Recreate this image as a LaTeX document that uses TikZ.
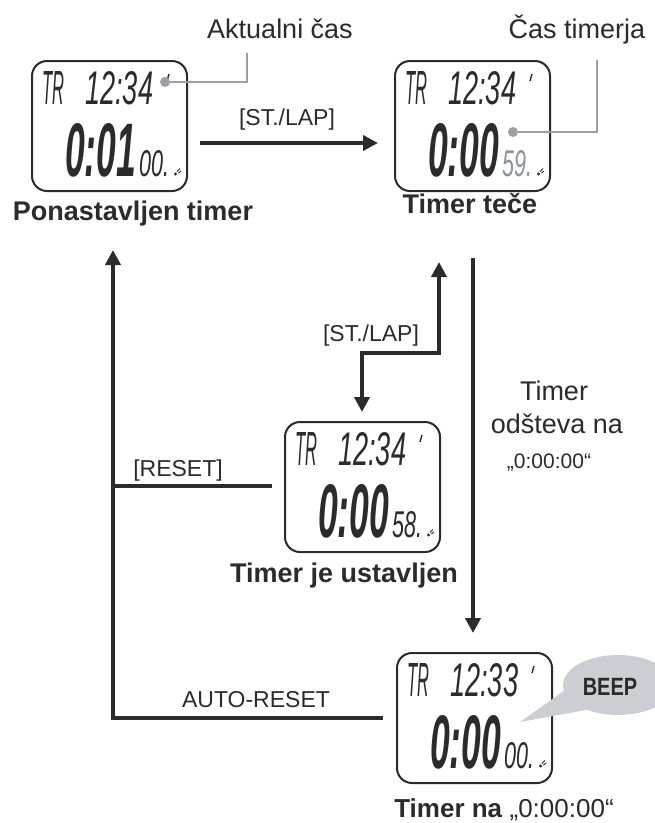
\documentclass[tikz,border=0pt]{standalone}
\usepackage{fontspec}
\usepackage{graphicx}
\setmainfont{Liberation Sans}
\newfontfamily\narrowfont[FakeStretch=0.8]{Liberation Sans}
\usetikzlibrary{arrows.meta}
\definecolor{ink}{HTML}{2B2B2B}
\definecolor{leadgray}{HTML}{9AA0A6}
\definecolor{bubblegray}{HTML}{CBCED3}
\definecolor{seggray}{HTML}{8C939B}
\newcommand{\lcdtext}[3]{\resizebox{#1pt}{#2pt}{\itshape #3}}
\tikzset{
  conn/.style={draw=ink, line width=4.8pt},
  tipend/.style={-{Triangle[length=15pt,width=15pt]}},
  tipboth/.style={{Triangle[length=15pt,width=15pt]}-{Triangle[length=15pt,width=15pt]}},
  leader/.style={draw=leadgray, line width=2.6pt},
  watchbox/.style={draw=ink, line width=2pt, rounded corners=15pt, minimum width=155pt, minimum height=130pt, inner sep=0pt},
  lcd/.style={inner sep=0pt, anchor=south west, text=ink},
  lbl/.style={inner sep=0pt, anchor=base, text=ink, font=\fontsize{23}{26}\selectfont},
  bigl/.style={inner sep=0pt, anchor=base, text=ink, font=\fontsize{27}{30}\selectfont},
  boldl/.style={inner sep=0pt, anchor=base, text=ink, font=\fontsize{27}{30}\selectfont\bfseries},
}
\newcommand{\watchunit}[7]{%
  \begin{scope}[shift={(#2,#3)}]
    \node[watchbox] (#1) at (77.5,65) {};
    \node[lcd] (#1tr) at (10,44) {\lcdtext{22}{33}{TR}};
    \node[lcd] (#1tm) at (53,44) {\lcdtext{68}{33}{#4}};
    \draw[ink, line width=1.4pt] (137,13) -- (135,20);
    \node[lcd] (#1big) at (33,116) {\lcdtext{71}{53}{\bfseries #5}};
    \node[lcd, text=#7] (#1sm) at (107,116) {\lcdtext{30}{26}{#6}};
    \fill[ink] (143.5,113) circle (1.6pt);
    \draw[ink, line width=0.9pt] (145,110.5) -- (148,107.5) (146.5,112) -- (149,110);
  \end{scope}}
\begin{document}
\begin{tikzpicture}[x=1pt,y=-1pt]
\clip (0,0) rectangle (655,823);
\fill[white] (0,0) rectangle (655,823);

% watches
\watchunit{wa}{32}{61}{12:34}{0:01}{00.}{ink}
\watchunit{wb}{395}{61}{12:34}{0:00}{59.}{seggray}
\watchunit{wc}{285}{422}{12:34}{0:00}{58.}{ink}
\watchunit{wd}{397}{653}{12:33}{0:00}{00.}{ink}

% callouts
\node[bigl] (aktual) at (280,38) {Aktualni čas};
\node[bigl] (castim) at (577,38) {Čas timerja};
\coordinate (ld1) at (247,82);
\coordinate (ld2) at (247,53);
\fill[leadgray] (165,82) circle (5pt) coordinate (dot1);
\draw[leader] (dot1) -- (ld1) -- (ld2);
\coordinate (ld3) at (597,132);
\coordinate (ld4) at (597,60);
\fill[leadgray] (513,132) circle (5pt) coordinate (dot2);
\draw[leader] (dot2) -- (ld3) -- (ld4);

% state labels
\node[boldl] (lab1) at (133,220) {Ponastavljen timer};
\node[boldl] (lab2) at (470,213) {Timer teče};
\node[boldl] (lab3) at (344,582) {Timer je ustavljen};
\node[inner sep=0pt, anchor=base, text=ink, font=\fontsize{26}{30}\selectfont] (lab4) at (504,817) {\textbf{Timer na} „0:00:00“};

% connectors
\coordinate (a1) at (200,143);
\coordinate (a2) at (378,143);
\draw[conn, tipend] (a1) -- (a2);
\node[lbl] (stlap1) at (287,125) {[ST./LAP]};

\coordinate (l0) at (383,718);
\coordinate (l1) at (113,718);
\coordinate (l2) at (113,250);
\draw[conn, tipend] (l0) -- (l1) -- (l2);
\node[lbl] (autor) at (256,707) {AUTO-RESET};

\coordinate (r0) at (272,486);
\coordinate (r1) at (113,486);
\draw[conn] (r0) -- (r1);
\node[lbl] (resetl) at (178,476) {[RESET]};

\coordinate (s1) at (439,262);
\coordinate (s2) at (439,353);
\coordinate (s3) at (362,353);
\coordinate (s4) at (362,412);
\draw[conn, tipboth] (s1) -- (s2) -- (s3) -- (s4);
\node[lbl] (stlap2) at (371,341) {[ST./LAP]};

\coordinate (d1) at (473,258);
\coordinate (d2) at (473,633);
\draw[conn, tipend] (d1) -- (d2);
\node[bigl] (cd1) at (554,400) {Timer};
\node[bigl] (cd2) at (557,433) {odšteva na};
\node[inner sep=0pt, anchor=base, text=ink, font=\fontsize{21}{24}\selectfont] (cd3) at (549,468) {„0:00:00“};

% beep bubble
\fill[bubblegray] (618,685) ellipse (55pt and 30pt);
\fill[bubblegray] (568,688) -- (520,722) -- (586,710) -- cycle;
\node[inner sep=0pt, anchor=base, text=ink, font=\narrowfont\fontsize{25}{28}\selectfont\bfseries] (beep) at (610,695) {BEEP};
\end{tikzpicture}
\end{document}
